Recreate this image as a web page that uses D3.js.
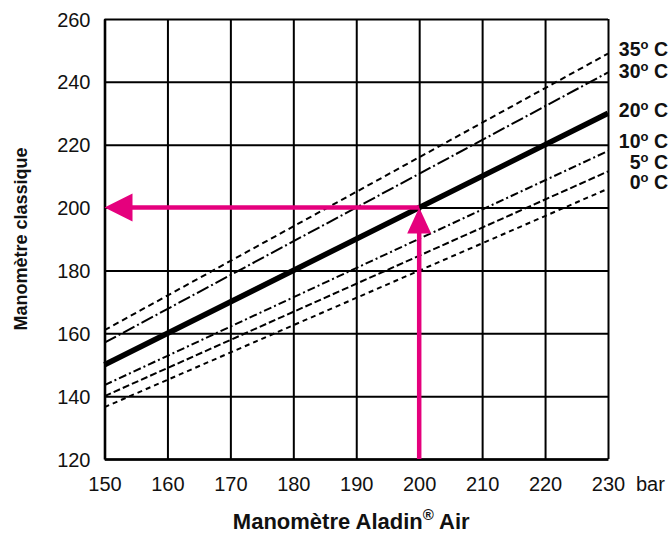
<html>
<script src="https://d3js.org/d3.v7.min.js"></script>
<body style="margin:0;background:#fff">
<svg width=671 height=534></svg>
<script>
// temperature curves: value on classic gauge at 150 bar and 230 bar
const temps=["35","30","20","10","5","0"]
const at150=[161,157,150,143.5,140,136.5]
const at230=[249,243,230,218,211.5,206]
const labelVals=[250.5,243.5,231,221,214.5,208]
const xTicks=[150,160,170,180,190,200,210,220,230]
const yTicks=[120,140,160,180,200,220,240,260]
const readX=200, readY=200

const dashes=["6,4","13,3,2,3",null,"8,3,2,3","7,3","5,4"]
const widths=[2,2,5.5,2,2,2]
const magenta="#e5007d"
const font="'Liberation Sans', Arial, sans-serif"

const svg=d3.select("svg")
const width=+svg.attr("width"), height=+svg.attr("height")
const margin={top:19, right:63, bottom:75, left:104.5}
const w=width-margin.left-margin.right, h=height-margin.top-margin.bottom

const xs=d3.scaleLinear().domain([150,230]).range([0,w])
const ys=d3.scaleLinear().domain([120,260]).range([h,0])

const g=svg.append("g").attr("transform","translate("+margin.left+","+margin.top+")")

// grid + axes
const xa=g.append("g").attr("transform","translate(0,"+h+")")
  .call(d3.axisBottom(xs).tickValues(xTicks).tickSizeInner(-h).tickSizeOuter(0).tickPadding(14))
const ya=g.append("g")
  .call(d3.axisLeft(ys).tickValues(yTicks).tickSizeInner(-w).tickSizeOuter(0).tickPadding(14))
;[xa,ya].forEach(a=>{
  a.selectAll(".tick line").attr("stroke","#000").attr("stroke-width",2)
  a.select(".domain").attr("stroke","#000").attr("stroke-width",2.6)
  a.selectAll("text").attr("font-family",font).attr("font-size",20).attr("fill","#111")
})
xa.selectAll("text").attr("dy","0.9em")
ya.selectAll("text").attr("dy","0.35em")
g.append("text").attr("x",xs(230)+28).attr("y",h+14).attr("dy","0.9em")
  .attr("font-family",font).attr("font-size",20).attr("fill","#111").text("bar")

// temperature lines
const line=d3.line().x(d=>xs(d[0])).y(d=>ys(d[1]))
temps.forEach((t,i)=>{
  g.append("path").attr("d",line([[150,at150[i]],[230,at230[i]]]))
    .attr("fill","none").attr("stroke","#000")
    .attr("stroke-width",widths[i]).attr("stroke-dasharray",dashes[i])
  const lab=g.append("text").attr("x",width-margin.left-3).attr("y",ys(labelVals[i])).attr("dy","0.35em")
    .attr("text-anchor","end").attr("font-family",font).attr("font-size",19.5).attr("font-weight","bold").attr("fill","#111")
  lab.append("tspan").text(t)
  lab.append("tspan").attr("dy",-7).attr("font-size",13).text("o")
  lab.append("tspan").attr("dy",7).text(" C")
})

// reading arrows
const hx=xs(readX), hy=ys(readY)
g.append("line").attr("x1",hx).attr("x2",hx).attr("y1",h).attr("y2",hy+24)
  .attr("stroke",magenta).attr("stroke-width",4.5)
g.append("path").attr("d","M"+hx+","+hy+"L"+(hx-12)+","+(hy+26)+"L"+(hx+12)+","+(hy+26)+"Z").attr("fill",magenta)
g.append("line").attr("x1",hx).attr("x2",xs(150)+25).attr("y1",hy).attr("y2",hy)
  .attr("stroke",magenta).attr("stroke-width",4.5)
g.append("path").attr("d","M"+xs(150)+","+hy+"L"+(xs(150)+28)+","+(hy-14)+"L"+(xs(150)+28)+","+(hy+14)+"Z").attr("fill",magenta)

// axis titles
const xt=svg.append("text").attr("x",margin.left+w/2-5).attr("y",height-5)
  .attr("text-anchor","middle").attr("font-family",font).attr("font-size",22).attr("font-weight","bold").attr("fill","#111")
xt.append("tspan").text("Manomètre Aladin")
xt.append("tspan").attr("dy",-9).attr("font-size",15).text("®")
xt.append("tspan").attr("dy",9).text(" Air")
svg.append("text").attr("transform","translate(27,"+(margin.top+h/2)+") rotate(-90)")
  .attr("text-anchor","middle").attr("font-family",font).attr("font-size",18).attr("font-weight","bold").attr("fill","#111")
  .text("Manomètre classique")
</script>
</body>
</html>
